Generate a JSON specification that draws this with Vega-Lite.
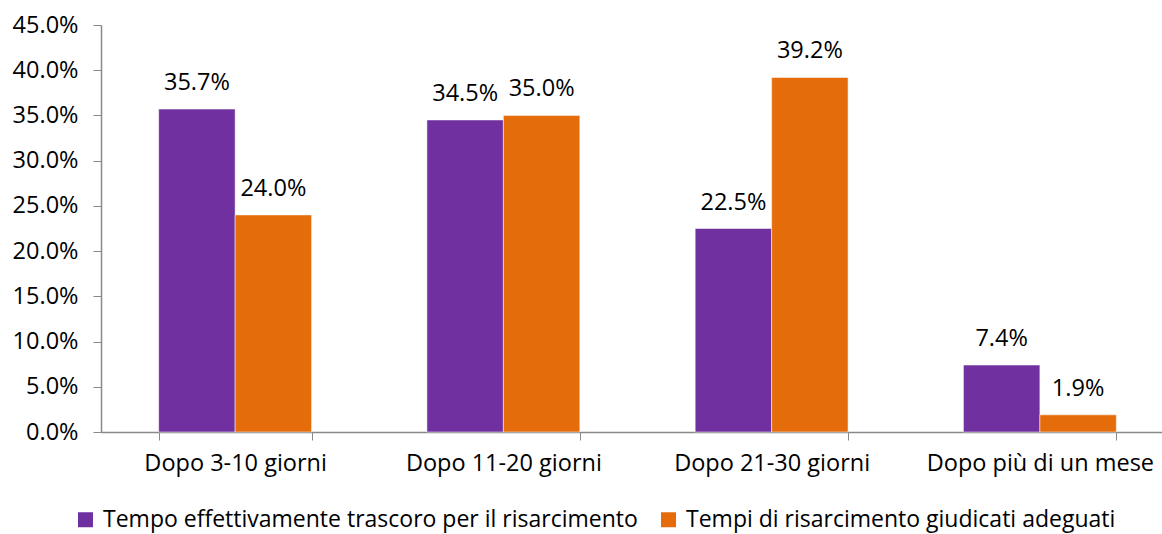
{
  "$schema": "https://vega.github.io/schema/vega-lite/v6.json",
  "autosize": "none",
  "padding": {"left": 101, "top": 25, "right": 0, "bottom": 102},
  "width": 1073,
  "height": 407,
  "background": "white",
  "config": {
    "font": "Open Sans",
    "view": {"stroke": null},
    "axis": {"grid": false, "domainColor": "#898989", "tickColor": "#898989", "labelColor": "#000000", "labelFontSize": 23.5, "labelFont": "Open Sans", "title": null}
  },
  "data": {
    "values": [
      {"cat": "Dopo 3-10 giorni", "serie": "Tempo effettivamente trascoro per il risarcimento", "v": 0.357},
      {"cat": "Dopo 3-10 giorni", "serie": "Tempi di risarcimento giudicati adeguati", "v": 0.240},
      {"cat": "Dopo 11-20 giorni", "serie": "Tempo effettivamente trascoro per il risarcimento", "v": 0.345},
      {"cat": "Dopo 11-20 giorni", "serie": "Tempi di risarcimento giudicati adeguati", "v": 0.350},
      {"cat": "Dopo 21-30 giorni", "serie": "Tempo effettivamente trascoro per il risarcimento", "v": 0.225},
      {"cat": "Dopo 21-30 giorni", "serie": "Tempi di risarcimento giudicati adeguati", "v": 0.392},
      {"cat": "Dopo più di un mese", "serie": "Tempo effettivamente trascoro per il risarcimento", "v": 0.074},
      {"cat": "Dopo più di un mese", "serie": "Tempi di risarcimento giudicati adeguati", "v": 0.019}
    ]
  },
  "encoding": {
    "x": {
      "field": "cat", "type": "nominal", "sort": null,
      "scale": {"paddingInner": 0.43, "paddingOuter": 0.215},
      "axis": {"labelAngle": 0, "tickBand": "extent", "tickSize": 8, "labelPadding": 11, "domainWidth": 1.5, "labelLimit": 300}
    },
    "xOffset": {"field": "serie", "type": "nominal", "sort": ["Tempo effettivamente trascoro per il risarcimento", "Tempi di risarcimento giudicati adeguati"]},
    "y": {
      "field": "v", "type": "quantitative",
      "scale": {"domain": [0, 0.45], "nice": false},
      "axis": {"values": [0, 0.05, 0.1, 0.15, 0.2, 0.25, 0.3, 0.35, 0.4, 0.45], "format": ".1%", "tickSize": 8, "labelPadding": 15, "domainWidth": 1.5}
    }
  },
  "layer": [
    {
      "mark": {"type": "bar", "stroke": "#ffffff", "strokeWidth": 0.5},
      "encoding": {
        "color": {
          "field": "serie", "type": "nominal",
          "sort": ["Tempo effettivamente trascoro per il risarcimento", "Tempi di risarcimento giudicati adeguati"],
          "scale": {"domain": ["Tempo effettivamente trascoro per il risarcimento", "Tempi di risarcimento giudicati adeguati"], "range": ["#7030A0", "#E46C0A"]},
          "legend": {
            "orient": "none", "legendX": -27, "legendY": 483, "direction": "horizontal",
            "title": null, "symbolType": "square", "symbolSize": 225, "symbolStrokeWidth": 0,
            "labelFontSize": 23, "labelFont": "Open Sans", "labelColor": "#000000", "columnPadding": 19, "labelOffset": 6, "labelLimit": 700
          }
        }
      }
    },
    {
      "mark": {"type": "text", "baseline": "bottom", "dy": -14, "fontSize": 23.5, "font": "Open Sans", "color": "#000000"},
      "encoding": {
        "text": {"field": "v", "type": "quantitative", "format": ".1%"}
      }
    }
  ]
}
